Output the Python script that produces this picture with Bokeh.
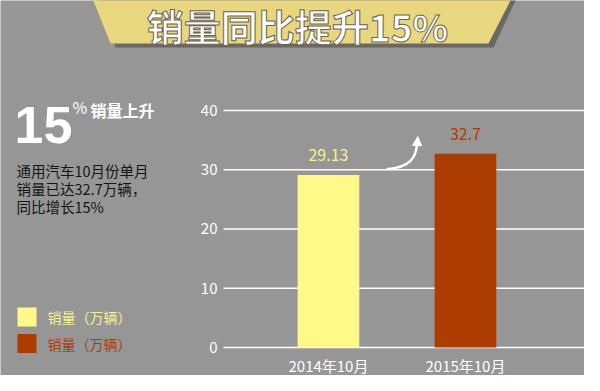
from bokeh.plotting import figure
from bokeh.models import Range1d, Arrow, NormalHead
from bokeh.core.properties import value
from bokeh.embed import file_html
from bokeh.resources import INLINE

# ---- data ----
categories = ["2014年10月", "2015年10月"]
sales = [29.13, 32.7]
series_names = ["销量（万辆）", "销量（万辆）"]
y_ticks = [0, 10, 20, 30, 40]
title_text = "销量同比提升15%"
headline_big = "15"
headline_pct = "%"
headline_word = "销量上升"
paragraph = ["通用汽车10月份单月", "销量已达32.7万辆，", "同比增长15%"]

# ---- styles ----
BG = "#969696"
BAR_COLORS = ["#fff98a", "#ad3c00"]
LABEL_COLORS = ["#f7f18c", "#b03c05"]
FONT = "Noto Sans CJK SC"
W, H = 584, 375

# chart scale: data ranges chosen so the plot area sits in the right part of the canvas
xpos = [i + 0.5 for i in range(len(categories))]
p = figure(width=W, height=H, x_range=Range1d(-1.894, 2.369), y_range=Range1d(-4.726, 58.565),
           toolbar_location=None, output_backend="svg", min_border=0)
p.background_fill_color = BG
p.border_fill_color = BG
p.outline_line_color = None
p.grid.visible = False
p.axis.visible = False
# pixel-space ranges for page layout elements (y downwards)
p.extra_x_ranges = {"px": Range1d(0, W)}
p.extra_y_ranges = {"px": Range1d(H, 0)}

# ---- title banner ----
p.patch([97, 516, 493, 115], [-2, -2, 47, 47], fill_color="#66625c", line_color=None, fill_alpha=0.9,
        x_range_name="px", y_range_name="px")
p.patch([92, 511, 488, 110], [-2, -2, 43, 43], fill_color="#e9d77f", line_color=None,
        x_range_name="px", y_range_name="px")
p.text(x=[297], y=[25], text=[title_text], text_font=value(FONT), text_font_size="37px",
       text_font_style="bold", text_color="white", text_align="center", text_baseline="middle",
       text_outline_color="#6b6350", x_range_name="px", y_range_name="px")

# ---- left text panel ----
p.text(x=[14], y=[124], text=[headline_big], text_font=value("Liberation Sans"), text_font_size="52px",
       text_font_style="bold", text_color="white", text_align="left", text_baseline="middle",
       x_range_name="px", y_range_name="px")
p.text(x=[72], y=[106], text=[headline_pct], text_font=value(FONT), text_font_size="16px",
       text_color="white", text_align="left", text_baseline="middle",
       x_range_name="px", y_range_name="px")
p.text(x=[90], y=[109], text=[headline_word], text_font=value(FONT), text_font_size="16px",
       text_font_style="bold", text_color="white", text_align="left", text_baseline="middle",
       x_range_name="px", y_range_name="px")
p.text(x=[16] * len(paragraph), y=[170 + 18 * i for i in range(len(paragraph))], text=paragraph,
       text_font=value(FONT), text_font_size="14.5px", text_color="#151515",
       text_align="left", text_baseline="middle", x_range_name="px", y_range_name="px")
leg_y = [316.5 + 26.5 * i for i in range(len(series_names))]
p.rect(x=[26.5] * len(series_names), y=leg_y, width=19, height=19, fill_color=BAR_COLORS, line_color=None,
       x_range_name="px", y_range_name="px")
p.text(x=[47] * len(series_names), y=leg_y, text=series_names, text_font=value(FONT),
       text_font_size="14px", text_color=LABEL_COLORS, text_align="left", text_baseline="middle",
       x_range_name="px", y_range_name="px")

# ---- bar chart ----
# grid lines and y tick labels at the tick values (data y), horizontally in pixel space
p.segment(x0=[223] * len(y_ticks), x1=[584] * len(y_ticks), y0=y_ticks, y1=y_ticks,
          line_color="white", line_width=1.6, x_range_name="px")
p.text(x=[217] * len(y_ticks), y=y_ticks, text=[str(t) for t in y_ticks], text_font=value(FONT),
       text_font_size="15px", text_color="white", text_align="right", text_baseline="middle",
       x_range_name="px")
p.vbar(x=xpos, top=sales, width=0.45, bottom=0, fill_color=BAR_COLORS, line_color=None)
p.text(x=xpos, y=sales, text=[str(v) for v in sales], y_offset=-20, text_font=value(FONT),
       text_font_size="16px", text_color=LABEL_COLORS, text_align="center", text_baseline="middle")
p.text(x=xpos, y=[365] * len(categories), text=categories, text_font=value(FONT),
       text_font_size="15px", text_color="white", text_align="center", text_baseline="middle",
       y_range_name="px")

# decorative growth arrow between bars
p.bezier(x0=[0.924], y0=[30.1], x1=[1.148], y1=[34.6], cx0=[1.10], cy0=[30.4], cx1=[1.14], cy1=[32.0],
         line_color="white", line_width=2.5)
p.add_layout(Arrow(end=NormalHead(size=9, fill_color="white", line_color="white"),
                   x_start=1.148, y_start=34.2, x_end=1.152, y_end=35.6,
                   line_color="white", line_width=2.5))

open("out.html", "w").write(file_html(p, INLINE))
